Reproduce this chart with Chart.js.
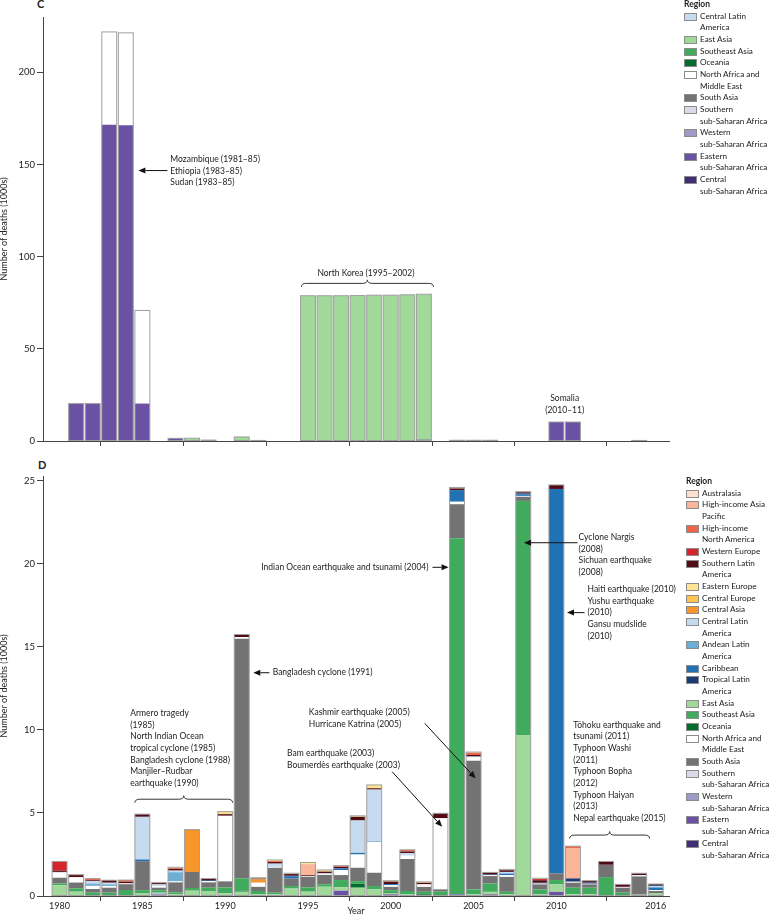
<!DOCTYPE html>
<html>
<head>
<meta charset="utf-8">
<script src="https://cdn.jsdelivr.net/npm/chart.js@4.4.1/dist/chart.umd.min.js"></script>
<style>
  html, body { margin: 0; padding: 0; background: #fff; }
  body { width: 772px; height: 916px; position: relative; overflow: hidden; font-family: Lato, sans-serif; color: #222; }
  .wrap { position: absolute; left: 0; }
  .panel { position: absolute; font-weight: bold; font-size: 11px; line-height: 11px; }
  .legend { position: absolute; font-size: 8.2px; line-height: 11.67px; color: #222; white-space: nowrap; }
  .legend .ttl { font-weight: bold; font-size: 8.5px; }
  .legend .item { position: relative; padding-left: 16px; }
  .legend .sw { position: absolute; left: 0; top: 2px; width: 11px; height: 6px; border: 1px solid #8c8c8c; }
</style>
</head>
<body>
<div class="panel" style="left:37px;top:-2px">C</div>
<div class="panel" style="left:38px;top:459px">D</div>
<div class="wrap" style="top:0"><canvas id="chartC" width="772" height="449"></canvas></div>
<div class="wrap" style="top:455px"><canvas id="chartD" width="772" height="461"></canvas></div>
<div class="legend" id="legendC" style="left:684px;top:-1px"></div>
<div class="legend" id="legendD" style="left:686px;top:476px"></div>
<script>
// years on the x axis
const years = [1980, 1981, 1982, 1983, 1984, 1985, 1986, 1987, 1988, 1989,
               1990, 1991, 1992, 1993, 1994, 1995, 1996, 1997, 1998, 1999,
               2000, 2001, 2002, 2003, 2004, 2005, 2006, 2007, 2008, 2009,
               2010, 2011, 2012, 2013, 2014, 2015, 2016];
const yearTicks = [1980, 1985, 1990, 1995, 2000, 2005, 2010, 2016];
const cTicks = [0, 50, 100, 150, 200];
const dTicks = [0, 5, 10, 15, 20, 25];

// panel C, deaths in 1000s
const cCentralSSA = [0, 0, 0, 0, 0,  0, 0, 0, 0, 0.5,  0, 0, 0.3, 0, 0,  0, 0, 0, 0, 0,
                     0, 0, 0.7, 0, 0.4,  0.4, 0.4, 0, 0, 0,  0, 0, 0, 0, 0,  0.3, 0];
const cEasternSSA = [0, 20.3, 20.3, 171.5, 171.3,  20.3, 0, 1.45, 0, 0,  0, 0, 0, 0, 0,  0, 0, 0, 0, 0,
                     0, 0, 0, 0, 0,  0, 0, 0, 0, 0,  10.3, 10.3, 0, 0, 0,  0, 0];
const cEastAsia = [0, 0, 0, 0, 0,  0, 0, 0, 1.5, 0,  0, 2.2, 0, 0, 0,  78.8, 78.8, 78.8, 78.9, 79.1,
                   79.1, 79.3, 78.9, 0, 0,  0, 0, 0, 0, 0,  0, 0, 0, 0, 0,  0, 0];
const cNorthAfricaME = [0, 0, 0, 50.4, 50.1,  50.5, 0, 0, 0, 0,  0, 0, 0, 0, 0,  0, 0, 0, 0, 0,
                        0, 0, 0, 0, 0,  0, 0, 0, 0, 0,  0, 0, 0, 0, 0,  0, 0];

// panel D, deaths in 1000s
const dEasternSSA = [0, 0, 0, 0, 0,  0, 0, 0, 0, 0,  0, 0, 0, 0, 0.05,  0, 0, 0.32, 0, 0,
                     0.1, 0, 0, 0, 0.1,  0.05, 0.1, 0, 0, 0.05,  0.25, 0, 0, 0, 0,  0.05, 0];
const dWesternSSA = [0, 0, 0, 0, 0,  0, 0.15, 0, 0, 0,  0, 0, 0, 0, 0,  0, 0, 0, 0, 0,
                     0, 0, 0, 0, 0,  0, 0, 0, 0, 0,  0, 0, 0, 0, 0,  0, 0];
const dEastAsia = [0.65, 0.26, 0.05, 0, 0,  0.15, 0.05, 0.1, 0.32, 0.3,  0.16, 0.26, 0.1, 0.1, 0.4,
                   0.26, 0.56, 0.2, 0.5, 0.4,  0.05, 0.1, 0.05, 0, 0,  0.05, 0.15, 0.1, 9.7, 0.05,
                   0.45, 0.1, 0.1, 0.06, 0.05,  0.03, 0.15];
const dOceania = [0, 0, 0, 0, 0.03,  0, 0, 0, 0, 0,  0, 0.06, 0, 0, 0,  0, 0, 0, 0.24, 0,
                  0, 0, 0.05, 0, 0,  0, 0, 0, 0, 0,  0, 0, 0, 0, 0,  0, 0];
const dSoutheastAsia = [0.1, 0.2, 0.15, 0.2, 0.33,  0.2, 0.15, 0.12, 0.16, 0.2,  0.36, 0.74, 0.2, 0.1, 0.15,
                        0.26, 0.15, 0.44, 0.16, 0.2,  0.2, 0.2, 0.15, 0.26, 21.45,  0.3, 0.5, 0.15, 14.1, 0.3,
                        0.26, 0.4, 0.4, 1.08, 0.15,  0, 0];
const dSouthAsia = [0.35, 0.35, 0.22, 0.3, 0.35,  1.75, 0.15, 0.6, 0.97, 0.32,  0.36, 14.44, 0.25, 1.5, 0.45,
                    0.64, 0.56, 0.3, 0.8, 0.8,  0.2, 1.93, 0.3, 0.14, 2.05,  7.75, 0.45, 0.9, 0.25, 0.3,
                    0.41, 0.3, 0.2, 0.74, 0.3,  1.1, 0.15];
const dNorthAfricaME = [0.3, 0.32, 0.2, 0.1, 0.05,  0, 0.1, 0.06, 0, 0.08,  3.95, 0.1, 0.25, 0.05, 0,
                        0.05, 0.05, 0.3, 0.8, 1.87,  0.1, 0.2, 0.15, 4.28, 0.15,  0.2, 0.05, 0.1, 0.05, 0.05,
                        0, 0.06, 0.04, 0, 0.05,  0.07, 0.05];
const dCaribbean = [0, 0, 0.05, 0, 0,  0.1, 0, 0, 0, 0,  0, 0, 0, 0, 0.14,  0, 0, 0.1, 0.1, 0.04,
                    0.07, 0, 0, 0, 0.7,  0, 0, 0.1, 0.1, 0,  23.15, 0, 0, 0, 0,  0, 0.15];
const dAndeanLA = [0, 0, 0.08, 0.1, 0,  0, 0, 0.55, 0, 0,  0, 0, 0, 0, 0,  0, 0, 0, 0, 0,
                   0, 0, 0, 0, 0,  0, 0, 0, 0, 0,  0, 0, 0, 0, 0,  0, 0.05];
const dCentralLA = [0.05, 0, 0.15, 0.1, 0,  2.57, 0.1, 0.1, 0, 0,  0, 0, 0, 0.2, 0,  0, 0.05, 0, 1.95, 3.1,
                    0, 0.15, 0, 0, 0,  0.05, 0, 0.1, 0, 0,  0, 0, 0, 0, 0,  0, 0.05];
const dTropicalLA = [0, 0, 0, 0, 0,  0, 0, 0, 0, 0.05,  0, 0, 0, 0, 0.03,  0, 0, 0, 0, 0,
                     0, 0, 0, 0, 0,  0, 0.05, 0, 0.05, 0.05,  0, 0.2, 0.08, 0, 0,  0, 0.05];
const dCentralAsia = [0, 0, 0, 0, 0,  0, 0, 0, 2.55, 0,  0, 0, 0.2, 0, 0,  0, 0, 0, 0, 0,
                      0, 0, 0, 0, 0,  0, 0, 0, 0, 0,  0, 0, 0, 0, 0,  0, 0];
const dSouthernLA = [0.08, 0.15, 0.05, 0.15, 0.1,  0.16, 0.1, 0.1, 0, 0.1,  0.1, 0.15, 0.05, 0.1, 0.1,
                     0.05, 0.1, 0.1, 0.22, 0.08,  0.15, 0.1, 0.1, 0.3, 0.1,  0.1, 0.12, 0.1, 0.07, 0.15,
                     0.24, 0, 0.1, 0.2, 0.15,  0.12, 0.07];
const dWesternEurope = [0.55, 0, 0, 0, 0,  0, 0, 0, 0, 0,  0, 0, 0, 0, 0,  0, 0, 0, 0, 0,
                        0, 0, 0, 0, 0,  0, 0, 0, 0, 0.07,  0, 0, 0, 0, 0,  0, 0];
const dHIAsiaPacific = [0, 0, 0, 0, 0,  0, 0, 0, 0, 0,  0, 0, 0, 0, 0,  0.66, 0, 0, 0, 0,
                        0, 0, 0, 0, 0,  0, 0, 0, 0, 0,  0, 1.8, 0, 0, 0,  0, 0];
const dHINorthAmerica = [0, 0, 0.1, 0, 0.1,  0, 0, 0.05, 0, 0,  0, 0, 0, 0.05, 0,  0, 0, 0.04, 0, 0,
                         0, 0.1, 0, 0, 0,  0.12, 0, 0, 0, 0,  0, 0.14, 0, 0, 0,  0, 0];
const dEasternEurope = [0, 0, 0, 0, 0,  0, 0, 0.05, 0, 0,  0.15, 0, 0.05, 0.07, 0.05,  0.1, 0.1, 0.03, 0.06, 0.2,
                        0.05, 0, 0.05, 0, 0.06,  0.05, 0, 0.05, 0.04, 0.05,  0, 0, 0, 0, 0,  0, 0];

const regionColors = {
  'Australasia': '#fee0d2',
  'High-income Asia Pacific': '#fbb69a',
  'High-income North America': '#ef6548',
  'Western Europe': '#d7262b',
  'Southern Latin America': '#520a14',
  'Eastern Europe': '#fee391',
  'Central Europe': '#fec44f',
  'Central Asia': '#f7962b',
  'Central Latin America': '#c6dbef',
  'Andean Latin America': '#6baed6',
  'Caribbean': '#2171b5',
  'Tropical Latin America': '#1f3a70',
  'East Asia': '#a1d99b',
  'Southeast Asia': '#41ab5d',
  'Oceania': '#006d2c',
  'North Africa and Middle East': '#ffffff',
  'South Asia': '#737373',
  'Southern sub-Saharan Africa': '#dadaeb',
  'Western sub-Saharan Africa': '#9e9ac8',
  'Eastern sub-Saharan Africa': '#6a51a3',
  'Central sub-Saharan Africa': '#3f2d76'
};
const legendText = {
  'High-income Asia Pacific': 'High-income Asia\nPacific',
  'High-income North America': 'High-income\nNorth America',
  'Southern Latin America': 'Southern Latin\nAmerica',
  'Central Latin America': 'Central Latin\nAmerica',
  'Andean Latin America': 'Andean Latin\nAmerica',
  'Tropical Latin America': 'Tropical Latin\nAmerica',
  'North Africa and Middle East': 'North Africa and\nMiddle East',
  'Southern sub-Saharan Africa': 'Southern\nsub-Saharan Africa',
  'Western sub-Saharan Africa': 'Western\nsub-Saharan Africa',
  'Eastern sub-Saharan Africa': 'Eastern\nsub-Saharan Africa',
  'Central sub-Saharan Africa': 'Central\nsub-Saharan Africa'
};
const legendC = ['Central Latin America', 'East Asia', 'Southeast Asia', 'Oceania',
  'North Africa and Middle East', 'South Asia', 'Southern sub-Saharan Africa',
  'Western sub-Saharan Africa', 'Eastern sub-Saharan Africa', 'Central sub-Saharan Africa'];
const legendD = ['Australasia', 'High-income Asia Pacific', 'High-income North America',
  'Western Europe', 'Southern Latin America', 'Eastern Europe', 'Central Europe', 'Central Asia',
  'Central Latin America', 'Andean Latin America', 'Caribbean', 'Tropical Latin America',
  'East Asia', 'Southeast Asia', 'Oceania', 'North Africa and Middle East', 'South Asia',
  'Southern sub-Saharan Africa', 'Western sub-Saharan Africa', 'Eastern sub-Saharan Africa',
  'Central sub-Saharan Africa'];

// stacking order, bottom first
const seriesC = [
  ['Central sub-Saharan Africa', cCentralSSA],
  ['Eastern sub-Saharan Africa', cEasternSSA],
  ['East Asia', cEastAsia],
  ['North Africa and Middle East', cNorthAfricaME]
];
const seriesD = [
  ['Eastern sub-Saharan Africa', dEasternSSA],
  ['Western sub-Saharan Africa', dWesternSSA],
  ['East Asia', dEastAsia],
  ['Oceania', dOceania],
  ['Southeast Asia', dSoutheastAsia],
  ['South Asia', dSouthAsia],
  ['North Africa and Middle East', dNorthAfricaME],
  ['Caribbean', dCaribbean],
  ['Andean Latin America', dAndeanLA],
  ['Central Latin America', dCentralLA],
  ['Tropical Latin America', dTropicalLA],
  ['Central Asia', dCentralAsia],
  ['Southern Latin America', dSouthernLA],
  ['Western Europe', dWesternEurope],
  ['High-income Asia Pacific', dHIAsiaPacific],
  ['High-income North America', dHINorthAmerica],
  ['Eastern Europe', dEasternEurope]
];

// annotations in data units: [year, value] of first text line
const cNotes = {
  texts: [
    {at: [1986.69, 152.9], lines: ['Mozambique (1981\u201385)', 'Ethiopia (1983\u201385)', 'Sudan (1983\u201385)']},
    {at: [1998.5, 91.0], lines: ['North Korea (1995\u20132002)'], align: 'center'},
    {at: [2010.5, 23.2], lines: ['Somalia', '(2010\u201311)'], align: 'center'}
  ],
  arrows: [{from: [1986.51, 146.7], to: [1984.76, 146.7]}],
  braces: [{x1: 1994.6, x2: 2002.58, y: 85.5}]
};
const dNotes = {
  texts: [
    {at: [1992.87, 13.45], lines: ['Bangladesh cyclone (1991)']},
    {at: [2002.28, 19.8], lines: ['Indian Ocean earthquake and tsunami (2004)'], align: 'right'},
    {at: [2011.34, 21.6], lines: ['Cyclone Nargis', '(2008)', 'Sichuan earthquake', '(2008)']},
    {at: [2011.88, 18.48], lines: ['Haiti earthquake (2010)', 'Yushu earthquake', '(2010)', 'Gansu mudslide', '(2010)']},
    {at: [1995.05, 11.04], lines: ['Kashmir earthquake (2005)', 'Hurricane Katrina (2005)']},
    {at: [1993.74, 8.6], lines: ['Bam earthquake (2003)', 'Boumerd\u00e8s earthquake (2003)']},
    {at: [1984.27, 11.0], lines: ['Armero tragedy', '(1985)', 'North Indian Ocean', 'tropical cyclone (1985)',
      'Bangladesh cyclone (1988)', 'Manjiler\u2013Rudbar', 'earthquake (1990)']},
    {at: [2011.02, 10.3], lines: ['T\u014dhoku earthquake and', 'tsunami (2011)', 'Typhoon Washi', '(2011)',
      'Typhoon Bopha', '(2012)', 'Typhoon Haiyan', '(2013)', 'Nepal earthquake (2015)']}
  ],
  arrows: [
    {from: [1992.67, 13.45], to: [1991.70, 13.45]},
    {from: [2002.52, 19.8], to: [2003.49, 19.8]},
    {from: [2011.28, 21.28], to: [2008.04, 21.28]},
    {from: [2011.7, 17.07], to: [2010.64, 17.07]},
    {from: [2002.05, 10.4], to: [2005.12, 7.09]},
    {from: [2000.08, 7.49], to: [2003.1, 4.17]}
  ],
  braces: [
    {x1: 1984.55, x2: 1990.45, y: 5.83},
    {x1: 2010.8, x2: 2015.63, y: 3.67}
  ]
};

Chart.defaults.font.family = 'Lato, sans-serif';
Chart.defaults.font.size = 9.5;
Chart.defaults.color = '#222';

const LINE = 11.67;
const FONT = '8.5px Lato, sans-serif';

// grey outline round each whole stacked bar
const barOutline = {
  id: 'barOutline',
  afterDatasetsDraw(chart) {
    const ctx = chart.ctx;
    const metas = chart.getSortedVisibleDatasetMetas();
    ctx.save();
    ctx.strokeStyle = '#9f9f9f';
    ctx.lineWidth = 1;
    chart.data.labels.forEach((yr, i) => {
      let top = Infinity, bottom = -Infinity, x = null, w = 0;
      metas.forEach(m => {
        if (!chart.data.datasets[m.index].data[i]) return;
        const el = m.data[i];
        top = Math.min(top, el.y);
        bottom = Math.max(bottom, el.base);
        x = el.x;
        w = el.width;
      });
      if (x === null) return;
      ctx.strokeRect(x - w / 2, top, w, bottom - top);
    });
    ctx.restore();
  }
};

function drawArrow(ctx, x1, y1, x2, y2) {
  const a = Math.atan2(y2 - y1, x2 - x1);
  const len = 7, half = 3;
  ctx.beginPath();
  ctx.moveTo(x1, y1);
  ctx.lineTo(x2 - Math.cos(a) * len, y2 - Math.sin(a) * len);
  ctx.stroke();
  ctx.beginPath();
  ctx.moveTo(x2, y2);
  ctx.lineTo(x2 - Math.cos(a) * len - Math.sin(a) * half, y2 - Math.sin(a) * len + Math.cos(a) * half);
  ctx.lineTo(x2 - Math.cos(a) * len + Math.sin(a) * half, y2 - Math.sin(a) * len - Math.cos(a) * half);
  ctx.closePath();
  ctx.fill();
}

function drawBrace(ctx, x1, x2, y) {
  const xm = (x1 + x2) / 2, r = 5, h = 3.5;
  ctx.beginPath();
  ctx.moveTo(x1, y + h);
  ctx.quadraticCurveTo(x1, y, x1 + r, y);
  ctx.lineTo(xm - r, y);
  ctx.quadraticCurveTo(xm, y, xm, y - h);
  ctx.quadraticCurveTo(xm, y, xm + r, y);
  ctx.lineTo(x2 - r, y);
  ctx.quadraticCurveTo(x2, y, x2, y + h);
  ctx.stroke();
}

function notesPlugin(notes) {
  return {
    id: 'notes',
    afterDraw(chart) {
      const {ctx, chartArea, scales: {x, y}} = chart;
      const px = p => [x.getPixelForValue(p[0]), y.getPixelForValue(p[1])];
      ctx.save();
      // x axis line runs a little past the y axis, as in the original
      ctx.strokeStyle = '#444';
      ctx.lineWidth = 1;
      ctx.beginPath();
      ctx.moveTo(chartArea.left - 6, chartArea.bottom + 0.5);
      ctx.lineTo(chartArea.left, chartArea.bottom + 0.5);
      ctx.stroke();

      ctx.font = FONT;
      ctx.fillStyle = '#222';
      ctx.strokeStyle = '#111';
      ctx.textBaseline = 'middle';
      notes.texts.forEach(t => {
        const [tx, ty] = px(t.at);
        ctx.textAlign = t.align || 'left';
        t.lines.forEach((line, k) => ctx.fillText(line, tx, ty + k * LINE));
      });
      ctx.fillStyle = '#111';
      notes.arrows.forEach(a => {
        const [x1, y1] = px(a.from);
        const [x2, y2] = px(a.to);
        drawArrow(ctx, x1, y1, x2, y2);
      });
      ctx.strokeStyle = '#333';
      notes.braces.forEach(b => {
        drawBrace(ctx, x.getPixelForValue(b.x1), x.getPixelForValue(b.x2), y.getPixelForValue(b.y));
      });
      ctx.restore();
    }
  };
}

function makeDatasets(series) {
  return series.map(([name, values]) => ({
    label: name,
    data: values,
    backgroundColor: regionColors[name],
    borderWidth: 0,
    barPercentage: 0.9,
    categoryPercentage: 1
  }));
}

function makeChart(id, series, yMax, yTicks, showYears, notes, padTop, xHeight) {
  return new Chart(document.getElementById(id), {
    type: 'bar',
    data: {labels: years, datasets: makeDatasets(series)},
    options: {
      responsive: false,
      animation: false,
      devicePixelRatio: 1,
      layout: {padding: {left: 0, right: 103, top: padTop, bottom: 0}},
      plugins: {legend: {display: false}, tooltip: {enabled: false}},
      scales: {
        x: {
          type: 'linear',
          stacked: true,
          min: 1979,
          max: 2016.8,
          offset: false,
          afterBuildTicks: s => { s.ticks = yearTicks.map(v => ({value: v})); },
          afterFit: s => { s.height = xHeight; },
          grid: {display: true, drawOnChartArea: false, tickLength: 5, tickColor: '#444'},
          border: {display: true, color: '#444', width: 1},
          ticks: {display: showYears, padding: 0, maxRotation: 0, font: {size: 9}, callback: v => String(v)},
          title: {display: showYears, text: 'Year', padding: {top: 0, bottom: 0}, font: {size: 9, lineHeight: 1}}
        },
        y: {
          stacked: true,
          min: 0,
          max: yMax,
          afterBuildTicks: s => { s.ticks = yTicks.map(v => ({value: v})); },
          afterFit: s => { s.width = 43; },
          grid: {display: true, drawOnChartArea: false, tickLength: 6, tickColor: '#444'},
          border: {display: true, color: '#444', width: 1},
          ticks: {padding: 2},
          title: {display: true, text: 'Number of deaths (1000s)', padding: {top: 0, bottom: 0}, font: {size: 9, lineHeight: 1}}
        }
      }
    },
    plugins: [barOutline, notesPlugin(notes)]
  });
}

const chartC = makeChart('chartC', seriesC, 230, cTicks, false, cNotes, 17, 8);
const chartD = makeChart('chartD', seriesD, 25.3, dTicks, true, dNotes, 21, 20);

function buildLegend(el, names) {
  let html = '<div class="ttl">Region</div>';
  names.forEach(n => {
    const lines = (legendText[n] || n).split('\n').join('<br>');
    html += '<div class="item"><span class="sw" style="background:' + regionColors[n] + '"></span>' + lines + '</div>';
  });
  document.getElementById(el).innerHTML = html;
}
buildLegend('legendC', legendC);
buildLegend('legendD', legendD);
</script>
</body>
</html>
